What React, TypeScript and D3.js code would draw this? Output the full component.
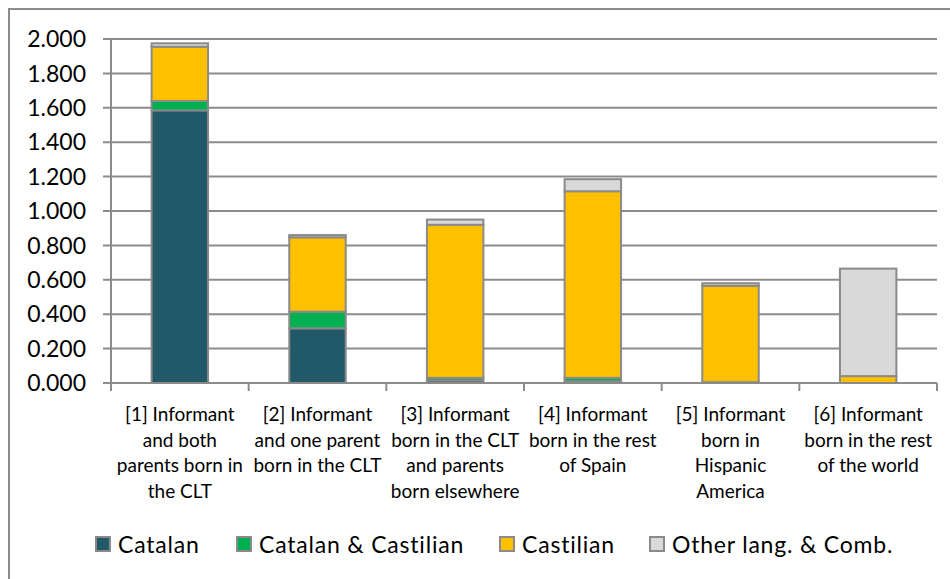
import React from "react";
import * as d3 from "d3";

const categories = ["c1", "c2", "c3", "c4", "c5", "c6"];
const categoryLabels: string[][] = [
  ["[1] Informant", "and both", "parents born in", "the CLT"],
  ["[2] Informant", "and one parent", "born in the CLT"],
  ["[3] Informant", "born in the CLT", "and parents", "born elsewhere"],
  ["[4] Informant", "born in the rest", "of Spain"],
  ["[5] Informant", "born in", "Hispanic", "America"],
  ["[6] Informant", "born in the rest", "of the world"],
];
const seriesNames = ["Catalan", "Catalan & Castilian", "Castilian", "Other lang. & Comb."];
const seriesColors = ["#215968", "#00b050", "#ffc000", "#d9d9d9"];
const catalan = [1.585, 0.318, 0.015, 0.01, 0.0, 0.0];
const catalanCastilian = [0.055, 0.097, 0.015, 0.02, 0.005, 0.0];
const castilian = [0.315, 0.432, 0.89, 1.085, 0.56, 0.04];
const other = [0.02, 0.013, 0.03, 0.07, 0.015, 0.625];
const yTicks = [0, 0.2, 0.4, 0.6, 0.8, 1.0, 1.2, 1.4, 1.6, 1.8, 2.0];

const W = 950;
const H = 579;
const FONT = "Lato, 'Open Sans', sans-serif";
const GRID = "#8c8c8c";

export default function App() {
  const x = d3.scaleBand<string>().domain(categories).range([111, 937]).paddingInner(0.59).paddingOuter(0.295);
  const xOuter = d3.scaleBand<string>().domain(categories).range([111, 937]);
  const y = d3.scaleLinear().domain([0, 2]).range([383, 39]);
  const fmt = d3.format(".3f");

  const rows = categories.map((c, i) => ({
    cat: c,
    s0: catalan[i],
    s1: catalanCastilian[i],
    s2: castilian[i],
    s3: other[i],
  }));
  const stack = d3.stack<any>().keys(["s0", "s1", "s2", "s3"])(rows);

  const legendX = [95, 236, 499, 649];

  return (
    <svg width={W} height={H} style={{ position: "absolute", left: 0, top: 0, background: "#fff" }} fontFamily={FONT}>
      <rect x={9} y={9} width={W + 20} height={H + 20} fill="#fff" stroke="#8c8c8c" strokeWidth={2} />
      {/* gridlines */}
      {yTicks.map((t) => (
        <g key={t}>
          <line x1={103} x2={937} y1={y(t)} y2={y(t)} stroke={GRID} strokeWidth={2} />
          <text x={86} y={y(t)} dy="0.36em" textAnchor="end" fontSize={23} fill="#000">
            {fmt(t)}
          </text>
        </g>
      ))}
      {/* y axis */}
      <line x1={111} x2={111} y1={y(2)} y2={y(0) + 8} stroke={GRID} strokeWidth={2} />
      {/* category ticks */}
      {categories.map((c) => (
        <line key={c} x1={(xOuter(c) as number) + xOuter.bandwidth()} x2={(xOuter(c) as number) + xOuter.bandwidth()} y1={y(0)} y2={y(0) + 8} stroke={GRID} strokeWidth={2} />
      ))}
      {/* bars */}
      {stack.map((layer, si) => (
        <g key={si}>
          {layer.map((d, i) => {
            const h = y(d[0]) - y(d[1]);
            if (h <= 0) return null;
            return (
              <rect
                key={i}
                x={x(categories[i]) as number}
                y={y(d[1])}
                width={x.bandwidth()}
                height={h}
                fill={seriesColors[si]}
                stroke="#8a8a8a"
                strokeWidth={2}
              />
            );
          })}
        </g>
      ))}
      {/* category labels */}
      {categories.map((c, i) => {
        const cx = (xOuter(c) as number) + xOuter.bandwidth() / 2;
        return (
          <text key={c} textAnchor="middle" fontSize={19} fill="#000">
            {categoryLabels[i].map((line, li) => (
              <tspan key={li} x={cx} y={421 + li * 25.5}>
                {line}
              </tspan>
            ))}
          </text>
        );
      })}
      {/* legend */}
      {seriesNames.map((name, i) => (
        <g key={name}>
          <rect x={legendX[i] + 1} y={537} width={14} height={14} fill={seriesColors[i]} stroke="#8a8a8a" strokeWidth={2} />
          <text x={legendX[i] + 23} y={553} fontSize={23} letterSpacing={0.8} fill="#000">
            {name}
          </text>
        </g>
      ))}
    </svg>
  );
}
